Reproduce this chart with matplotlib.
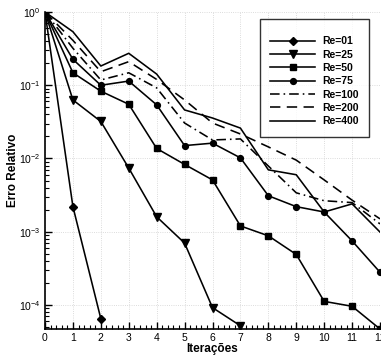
import numpy as np
import matplotlib
matplotlib.use("Agg")
import matplotlib.pyplot as plt
from matplotlib.ticker import MultipleLocator, LogLocator, NullFormatter

plt.rcParams.update({
    "font.family": "Liberation Sans",
    "font.size": 7.5,
    "mathtext.fontset": "custom",
    "mathtext.rm": "Liberation Sans",
    "mathtext.default": "regular",
})

#---------------------------------------------------------------------------
#                               DATA
#---------------------------------------------------------------------------

re01 = [1.0, 2.2e-3, 6.5e-5]
re25 = [1.0, 0.063, 0.032, 7.4e-3, 1.6e-3, 7.0e-4, 9.2e-5, 5.2e-5]
re50 = [1.0, 0.148, 0.083, 0.055, 0.0137, 0.0083, 0.0051, 1.2e-3, 8.8e-4,
        4.9e-4, 1.12e-4, 9.6e-5, 4.7e-5]
re75 = [1.0, 0.226, 0.100, 0.114, 0.054, 0.015, 0.0162, 0.0102, 3.1e-3,
        2.2e-3, 1.86e-3, 7.5e-4, 2.8e-4]
re100 = [1.0, 0.32, 0.118, 0.148, 0.092, 0.0305, 0.0179, 0.0185, 7.9e-3,
         3.4e-3, 2.65e-3, 2.5e-3, 1.28e-3]
re200 = [1.0, 0.41, 0.153, 0.21, 0.12, 0.063, 0.0305, 0.0216, 0.0144,
         9.5e-3, 5.1e-3, 2.7e-3, 1.5e-3]
re400 = [1.0, 0.538, 0.183, 0.273, 0.142, 0.046, 0.0357, 0.026, 7.0e-3,
         6.0e-3, 1.86e-3, 2.4e-3, 9.9e-4]

labels = ["Re=01", "Re=25", "Re=50", "Re=75", "Re=100", "Re=200", "Re=400"]

#---------------------------------------------------------------------------
#                               PLOT
#---------------------------------------------------------------------------

fig = plt.figure(figsize=(3.81, 3.60), dpi=100)
ax = fig.add_axes([45/381, 1-329/360, 335/381, 317/360])

series = [re01, re25, re50, re75, re100, re200, re400]
styles = [
    dict(ls="-", marker="D", ms=4.2),
    dict(ls="-", marker="v", ms=5.5),
    dict(ls="-", marker="s", ms=4.6),
    dict(ls="-", marker="o", ms=4.2),
    dict(ls=(0, (6, 2.5, 1, 2.5)), marker=None),
    dict(ls=(0, (6.5, 4)), marker=None),
    dict(ls="-", marker=None),
]

for y, st, lab in zip(series, styles, labels):
    x = np.arange(len(y))
    ax.plot(x, y, color="black", lw=1.15, label=lab, **st)

ax.set_yscale("log")
ax.set_xlim(0, 12)
ax.set_ylim(4.7e-5, 1.0)

ax.xaxis.set_major_locator(MultipleLocator(1))
ax.xaxis.set_minor_locator(MultipleLocator(0.2))
ax.yaxis.set_major_locator(LogLocator(base=10, numticks=10))
ax.yaxis.set_minor_locator(LogLocator(base=10, subs=np.arange(2, 10), numticks=20))
ax.yaxis.set_minor_formatter(NullFormatter())

ax.tick_params(which="major", direction="in", length=5, width=1.0, labelsize=7.5, pad=3)
ax.tick_params(which="minor", direction="in", length=3, width=0.8)

ax.grid(True, which="major", ls=":", lw=0.6, color="#d0d0d0")

for s in ["top", "right"]:
    ax.spines[s].set_visible(False)
ax.spines["left"].set_linewidth(1.2)
ax.spines["bottom"].set_linewidth(1.2)

ax.set_xlabel("Iterações", fontweight="bold", fontsize=8.5, labelpad=0)
ax.set_ylabel("Erro Relativo", fontweight="bold", fontsize=8.5, labelpad=0)

leg = ax.legend(loc="upper left", bbox_to_anchor=(0.642, 0.979), borderaxespad=0,
                frameon=True, fancybox=False, edgecolor="black",
                prop={"weight": "bold", "size": 7.5},
                handlelength=4.3, handletextpad=0.7, labelspacing=0.32,
                borderpad=1.0, title=" ", title_fontsize=3)
leg.get_frame().set_linewidth(1.0)

plt.savefig("out.png", dpi=100)
